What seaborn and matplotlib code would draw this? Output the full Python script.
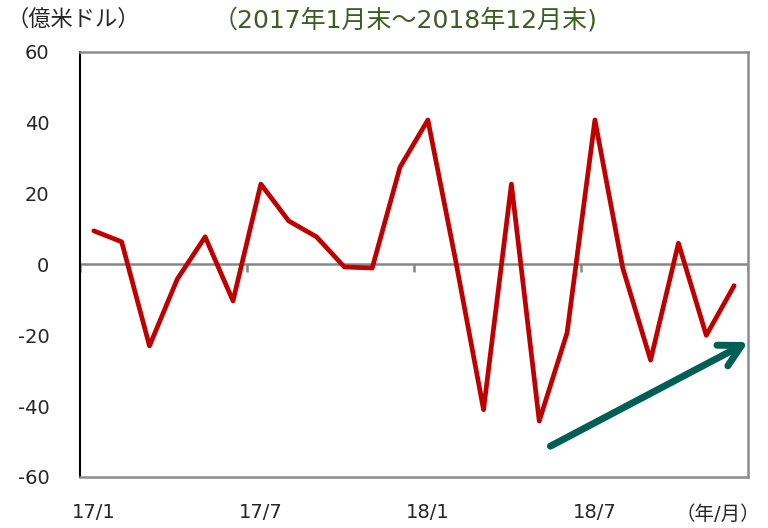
import matplotlib
matplotlib.use("Agg")
import matplotlib.pyplot as plt
import numpy as np
import pandas as pd
import seaborn as sns

# monthly values, 2017/1 .. 2018/12 (100 million USD)
months = [f"{y}/{m}" for y in (17, 18) for m in range(1, 13)]
values = [9.5, 6.4, -23.0, -4.1, 7.8, -10.3, 22.7, 12.3, 7.8, -0.7, -1.0, 27.5,
          40.8, 1.0, -41.0, 22.7, -44.2, -19.3, 40.8, -1.0, -27.0, 6.0, -20.0, -6.0]
tick_labels = ["17/1", "17/7", "18/1", "18/7"]
y_ticks = [-60, -40, -20, 0, 20, 40, 60]

sns.set_theme(style="white")
plt.rcParams['font.family'] = ['DejaVu Sans', 'Noto Sans CJK JP']
jp = ['DejaVu Sans', 'Noto Sans CJK JP']

df = pd.DataFrame({"pos": np.arange(len(months)), "month": months, "value": values})

fig = plt.figure(figsize=(7.68, 5.28), dpi=100)
ax = fig.add_axes([0.104, 0.0966, 0.87, 0.805])

# zero line and small ticks at 6-month boundaries
ax.axhline(0, color="#868686", lw=1.8, zorder=1)
bounds = np.arange(-0.5, len(months), 6)
ax.vlines(bounds, -2.0, 0, color="#868686", lw=1.8, zorder=1)

sns.lineplot(data=df, x="pos", y="value", color="#c00000", lw=3.4, ax=ax, zorder=3)

ax.set_xlim(-0.5, len(months) - 0.5)
ax.set_ylim(-60, 60)
ax.set_yticks(y_ticks)
ax.set_yticklabels([str(v) for v in y_ticks], fontsize=14)
ax.set_xticks(df["pos"][::6])
ax.set_xticklabels(tick_labels, fontsize=14)
ax.tick_params(axis="x", length=0, pad=19)
ax.tick_params(axis="y", length=0, pad=22)
ax.set_xlabel("")
ax.set_ylabel("")

for side in ["top", "right", "bottom"]:
    ax.spines[side].set_color("#8c8c8c")
    ax.spines[side].set_linewidth(1.8)
ax.spines["left"].set_color("black")
ax.spines["left"].set_linewidth(1.5)

# trend arrow
ax.annotate("", xy=(23.5, -21.9), xytext=(16.4, -51.3),
            arrowprops=dict(arrowstyle="->,head_length=1.3,head_width=0.7",
                            color="#005f55", lw=5, shrinkA=0, shrinkB=0))

fig.text(0.008, 0.963, "（億米ドル）", fontsize=16, family=jp, va="center", ha="left")
fig.text(0.528, 0.962, "（2017年1月末～2018年12月末)", fontsize=18, family=jp,
         color="#3b5e22", va="center", ha="center")
fig.text(0.99, 0.025, "（年/月）", fontsize=14, family=jp, va="center", ha="right")

fig.savefig("out.png", dpi=100)
plt.close(fig)
